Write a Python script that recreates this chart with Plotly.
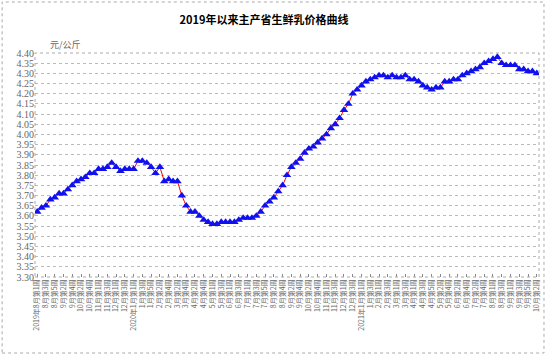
import plotly.graph_objects as go

# month blocks: (year, month, number of weeks)
month_years = [2019]*5 + [2020]*12 + [2021]*10
month_nums = [8, 9, 10, 11, 12, 1, 2, 3, 4, 5, 6, 7, 8, 9, 10, 11, 12, 1, 2, 3, 4, 5, 6, 7, 8, 9, 10]
month_weeks = [5, 4, 5, 4, 4, 5, 4, 4, 5, 4, 4, 5, 4, 4, 5, 4, 4, 4, 4, 4, 5, 4, 4, 5, 4, 5, 2]

prices = [3.62, 3.64, 3.65, 3.68, 3.69, 3.71, 3.71, 3.73, 3.75, 3.77,
          3.78, 3.79, 3.81, 3.81, 3.83, 3.83, 3.84, 3.86, 3.84, 3.82,
          3.83, 3.83, 3.83, 3.87, 3.87, 3.86, 3.84, 3.81, 3.84, 3.77,
          3.78, 3.77, 3.77, 3.70, 3.65, 3.62, 3.62, 3.60, 3.58, 3.57,
          3.56, 3.56, 3.57, 3.57, 3.57, 3.57, 3.58, 3.59, 3.59, 3.59,
          3.60, 3.62, 3.65, 3.67, 3.69, 3.72, 3.75, 3.80, 3.84, 3.86,
          3.88, 3.91, 3.93, 3.94, 3.96, 3.98, 4.00, 4.03, 4.05, 4.08,
          4.12, 4.15, 4.20, 4.22, 4.24, 4.26, 4.27, 4.28, 4.29, 4.29,
          4.28, 4.29, 4.28, 4.28, 4.29, 4.27, 4.27, 4.26, 4.24, 4.23,
          4.22, 4.23, 4.23, 4.26, 4.26, 4.27, 4.27, 4.29, 4.30, 4.31,
          4.32, 4.33, 4.35, 4.36, 4.37, 4.38, 4.35, 4.34, 4.34, 4.34,
          4.32, 4.32, 4.31, 4.31, 4.30]

y_ticks = [3.30, 3.35, 3.40, 3.45, 3.50, 3.55, 3.60, 3.65, 3.70, 3.75, 3.80, 3.85,
           3.90, 3.95, 4.00, 4.05, 4.10, 4.15, 4.20, 4.25, 4.30, 4.35, 4.40]

title_text = "2019年以来主产省生鲜乳价格曲线"
unit_text = "元/公斤"

week_labels = []
for yr, mo, nw in zip(month_years, month_nums, month_weeks):
    for w in range(1, nw + 1):
        if len(week_labels) == 0 or (mo == 1 and w == 1):
            week_labels.append(f"{yr}年{mo}月第{w}周")
        else:
            week_labels.append(f"{mo}月第{w}周")

x_idx = list(range(len(prices)))
shown = x_idx[::2]

fig = go.Figure()
fig.add_trace(go.Scatter(
    x=x_idx, y=prices, mode="lines+markers",
    line=dict(color="#ff0000", width=1),
    marker=dict(symbol="triangle-up", size=7.5, color="#1010ee"),
    customdata=week_labels, hovertemplate="%{customdata}: %{y:.2f}<extra></extra>",
    showlegend=False))

fig.update_layout(
    width=549, height=356,
    margin=dict(l=35, r=8, t=53, b=79),
    paper_bgcolor="white", plot_bgcolor="white",
    title=dict(text="<b>" + title_text + "</b>", x=264/549, xanchor="center",
               y=1 - 20/356, yanchor="middle",
               font=dict(family="Noto Sans CJK SC", size=11, color="#000")),
    xaxis=dict(tickmode="array", tickvals=shown,
               ticktext=[week_labels[i] for i in shown],
               tickangle=-90, ticks="inside", ticklen=3, tickcolor="#888",
               tickfont=dict(family="Noto Sans CJK SC", size=7, color="#666"),
               showgrid=False, showline=False, zeroline=False,
               range=[-0.5, len(prices) - 0.5]),
    yaxis=dict(range=[3.30, 4.40], tickvals=y_ticks, tickformat=".2f",
               tickfont=dict(family="Liberation Serif", size=10, color="#666"),
               showgrid=True, gridcolor="#bbb", griddash="dot", gridwidth=1,
               showline=False, zeroline=False, ticks=""),
    shapes=[
        dict(type="rect", xref="paper", yref="paper", x0=0, x1=1, y0=0, y1=1,
             line=dict(color="#aaa", width=1, dash="dot")),
        dict(type="rect", xref="paper", yref="paper",
             x0=(2 - 35) / 506, x1=(546 - 35) / 506,
             y0=(277 - 353) / 224, y1=(277 - 2) / 224,
             line=dict(color="#aaa", width=1, dash="dot")),
    ],
    annotations=[dict(text=unit_text, xref="paper", yref="paper",
                      x=(48 - 35) / 506, y=(277 - 45) / 224,
                      xanchor="left", yanchor="middle", showarrow=False,
                      font=dict(family="Noto Sans CJK SC", size=9, color="#666"))],
)

fig.write_html("out.html", config={"displayModeBar": False},
               post_script="document.body.style.margin='0';document.body.style.overflow='hidden';")
